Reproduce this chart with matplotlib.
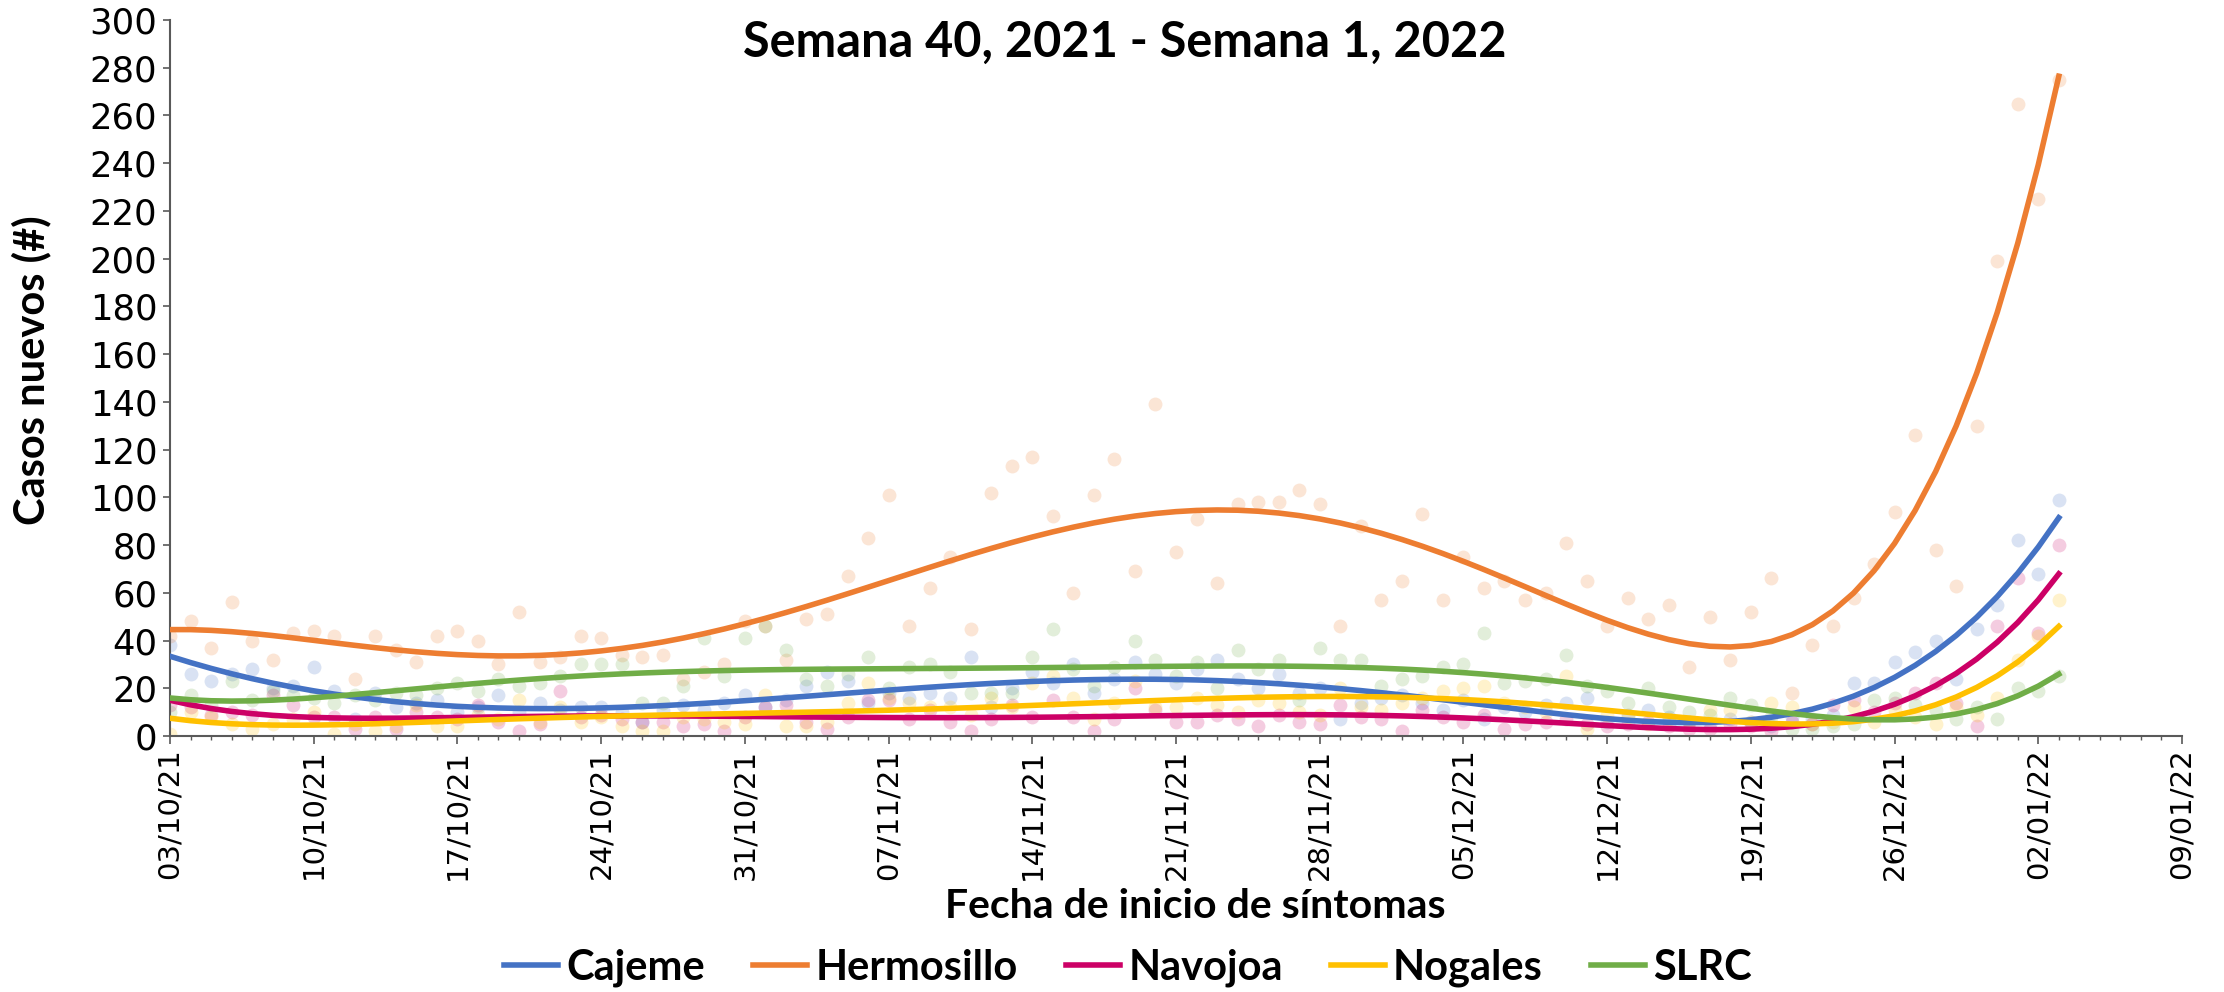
import numpy as np
import pandas as pd
import matplotlib
matplotlib.use('Agg')
import matplotlib.pyplot as plt
import matplotlib.dates as mdates

# casos nuevos diarios por fecha de inicio de sintomas (03/10/21 - 03/01/22)
fechas = pd.date_range('2021-10-03', '2022-01-03', freq='D')

cajeme = [38, 26, 23, 26, 28, 20, 21, 29, 19, 7,
          18, 12, 14, 15, 10, 12, 17, 10, 14, 11,
          12, 12, 10, 6, 11, 13, 11, 14, 17, 12,
          15, 21, 27, 23, 14, 18, 16, 18, 16, 33,
          12, 20, 27, 22, 30, 18, 24, 31, 26, 22,
          28, 32, 24, 20, 26, 18, 20, 7, 14, 16,
          17, 14, 11, 15, 7, 12, 10, 13, 14, 16,
          6, 9, 11, 8, 6, 5, 7, 6, 4, 8,
          7, 9, 22, 22, 31, 35, 40, 24, 45, 55,
          82, 68, 99]

hermosillo = [42, 48, 37, 56, 40, 32, 43, 44, 42, 24,
              42, 36, 31, 42, 44, 40, 30, 52, 31, 33,
              42, 41, 34, 33, 34, 24, 27, 30, 48, 46,
              32, 49, 51, 67, 83, 101, 46, 62, 75, 45,
              102, 113, 117, 92, 60, 101, 116, 69, 139, 77,
              91, 64, 97, 98, 98, 103, 97, 46, 88, 57,
              65, 93, 57, 75, 62, 65, 57, 60, 81, 65,
              46, 58, 49, 55, 29, 50, 32, 52, 66, 18,
              38, 46, 58, 72, 94, 126, 78, 63, 130, 199,
              265, 225, 275]

navojoa = [13, 12, 9, 10, 9, 17, 13, 8, 8, 3,
           8, 3, 10, 8, 7, 13, 6, 2, 5, 19,
           8, 9, 7, 6, 6, 4, 5, 2, 8, 12,
           13, 6, 3, 8, 15, 15, 7, 11, 6, 2,
           7, 13, 8, 15, 8, 2, 7, 20, 11, 6,
           6, 9, 7, 4, 9, 6, 5, 13, 8, 7,
           2, 11, 8, 6, 9, 3, 5, 6, 7, 5,
           4, 5, 6, 4, 3, 3, 5, 4, 2, 6,
           5, 13, 15, 10, 14, 18, 22, 14, 4, 46,
           66, 43, 80]

nogales = [1, 10, 8, 5, 3, 5, 7, 10, 1, 5,
           2, 4, 13, 4, 4, 9, 7, 15, 6, 12,
           6, 8, 4, 2, 2, 8, 7, 6, 5, 17,
           4, 4, 6, 14, 22, 16, 14, 12, 12, 9,
           16, 12, 22, 25, 16, 7, 14, 23, 12, 12,
           16, 13, 10, 15, 14, 10, 9, 20, 12, 11,
           14, 16, 19, 20, 21, 14, 12, 10, 25, 3,
           9, 8, 5, 7, 6, 11, 11, 6, 14, 12,
           5, 6, 12, 6, 11, 8, 5, 12, 9, 16,
           32, 42, 57]

slrc = [10, 17, 13, 23, 15, 19, 17, 16, 14, 17,
        15, 18, 17, 20, 22, 19, 24, 21, 22, 25,
        30, 30, 30, 14, 14, 21, 41, 25, 41, 46,
        36, 24, 21, 26, 33, 20, 29, 30, 27, 18,
        18, 18, 33, 45, 28, 21, 29, 40, 32, 25,
        31, 20, 36, 28, 32, 15, 37, 32, 32, 21,
        24, 25, 29, 30, 43, 22, 23, 24, 34, 21,
        19, 14, 20, 12, 10, 9, 16, 13, 8, 3,
        3, 4, 5, 15, 16, 13, 11, 7, 12, 7,
        20, 19, 25]

ciudades = ['Cajeme', 'Hermosillo', 'Navojoa', 'Nogales', 'SLRC']
series = [cajeme, hermosillo, navojoa, nogales, slrc]
colores = ['#4472C4', '#ED7D31', '#CC0066', '#FFC000', '#70AD47']

fig = plt.figure(figsize=(22.24, 9.92), dpi=100)
ax = fig.add_axes([170 / 2224, 1 - 736 / 992, 2012 / 2224, 716 / 992])

dias = np.arange(len(fechas))

# puntos diarios (tenues)
for valores, color in zip(series, colores):
    ax.scatter(fechas, valores, s=100, color=color, alpha=0.2, linewidths=0, zorder=1)

# lineas de tendencia polinomial (orden 6), como en Excel
lineas = []
for nombre, valores, color in zip(ciudades, series, colores):
    coef = np.polyfit(dias, valores, 6)
    tendencia = np.polyval(coef, dias)
    l, = ax.plot(fechas, tendencia, color=color, lw=4, label=nombre, zorder=3)
    lineas.append(l)

ax.set_ylim(0, 300)
ax.set_yticks(range(0, 301, 20))
ax.set_xlim(pd.Timestamp('2021-10-03'), pd.Timestamp('2022-01-09'))
ax.set_xticks(pd.date_range('2021-10-03', '2022-01-09', freq='7D'))
ax.xaxis.set_minor_locator(mdates.DayLocator())
ax.xaxis.set_major_formatter(mdates.DateFormatter('%d/%m/%y'))

for s in ['top', 'right']:
    ax.spines[s].set_visible(False)
for s in ['left', 'bottom']:
    ax.spines[s].set_color('#595959')
    ax.spines[s].set_linewidth(1.5)

ax.tick_params(axis='y', direction='out', length=5, width=1.2, color='#595959',
               labelsize=25.5, pad=4)
ax.tick_params(axis='x', which='major', direction='out', length=6, width=1.2,
               color='#595959', pad=3)
ax.tick_params(axis='x', which='minor', direction='out', length=3, width=1.0,
               color='#595959')
for t in ax.get_yticklabels():
    t.set_fontfamily('DejaVu Sans')
for t in ax.get_xticklabels():
    t.set_rotation(90)
    t.set_fontfamily(['Liberation Sans Narrow', 'DejaVu Sans'])
    t.set_fontsize(21)

fig.text(1125 / 2224, 1 - 42 / 992, 'Semana 40, 2021 - Semana 1, 2022',
         ha='center', va='center', fontsize=35, fontweight='bold', family=['Lato', 'DejaVu Sans'])
fig.text(31 / 2224, 1 - 370 / 992, 'Casos nuevos (#)', rotation=90,
         ha='center', va='center', fontsize=30, fontweight='bold', family=['Lato', 'DejaVu Sans'])
fig.text(1195 / 2224, 1 - 907 / 992, 'Fecha de inicio de síntomas',
         ha='center', va='center', fontsize=29.5, fontweight='bold', family=['Lato', 'DejaVu Sans'])

fig.legend(handles=lineas, loc='center', bbox_to_anchor=(1128 / 2224, 1 - 968 / 992),
           ncol=5, frameon=False, handlelength=1.3, handletextpad=0.2, columnspacing=1.15,
           prop={'family': ['Lato', 'DejaVu Sans'], 'weight': 'bold', 'size': 30})

fig.savefig('out.png', dpi=100)
